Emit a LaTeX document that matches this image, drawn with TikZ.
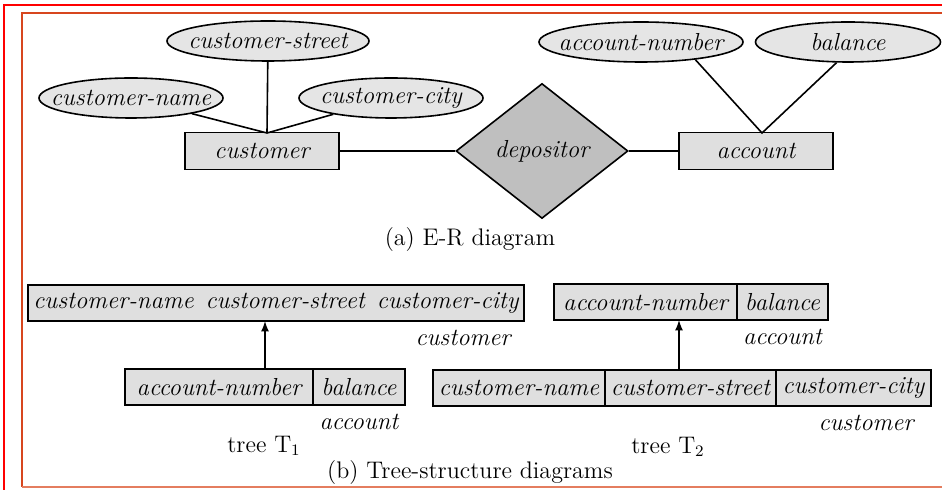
\documentclass[tikz,border=0pt]{standalone}
\usetikzlibrary{shapes.geometric,positioning}
\definecolor{framered}{RGB}{255,0,0}
\definecolor{framerust}{RGB}{215,70,30}
\definecolor{frameorange}{RGB}{228,125,95}

\begin{document}
\begin{tikzpicture}[x=0.5pt,y=-0.5pt,line width=0.8pt,
		font=\fontsize{12.3}{14}\selectfont\itshape]

		\tikzset{entity/.style={draw,fill=gray!25,minimum width=77pt,minimum height=18.5pt,inner sep=0pt},
			attr/.style={ellipse,draw,fill=gray!20,inner xsep=-8pt,inner ysep=0pt,minimum height=20pt},
			rel/.style={diamond,draw,fill=gray!50,minimum width=86pt,minimum height=67.5pt,inner sep=0pt},
			cell/.style={draw,fill=gray!25,minimum height=18pt,inner xsep=2pt,inner ysep=0pt,outer sep=0pt},
			caption/.style={font=\fontsize{12}{14}\selectfont\upshape}}
		\useasboundingbox (0,0) rectangle (942,490);

		% frames
		\draw[framered] (4,490) -- (4,5) -- (942,5);
		\draw[framerust] (942,13) -- (22,13) -- (22,487);
		\draw[frameorange,line width=1pt] (22,487) -- (942,487);

		% (a) E-R diagram
	    \node[attr,minimum width=101pt] (street) at (268,41) {customer-street};
	    \node[attr,minimum width=92pt] (cname) at (131,98) {customer-name};
	    \node[attr,minimum width=92pt] (city) at (391,98) {customer-city};
	    \node[entity] (cust) at (262,151) {customer};
	    \node[rel] (dep) at (542,151) {depositor};
	    \node[entity] (acct) at (756,151) {account};
	    \node[attr,minimum width=102pt] (anum) at (641,42) {account-number};
	    \node[attr,minimum width=92.5pt] (bal) at (848,42) {balance};
	    \coordinate (cj) at (267,133);
	    \coordinate (aj) at (762,133);
	    \draw (street) -- (cj);
	    \draw (cname) -- (cj) -- (city);
	    \draw (anum.-18) -- (aj) -- (bal.-119);
	    \draw (cust) -- (dep) -- (acct);
	    \node[caption] (capa) at (470,240) {(a) E-R diagram};

		% tree T1
	    \node[cell,minimum width=248pt] (t1cust) at (276,303)
	    	{customer-name\hspace{6pt}customer-street\hspace{6pt}customer-city};
	    \node[below left=1pt and 3pt of t1cust.south east] (t1custlbl) {customer};
	    \node[cell,anchor=north west,minimum width=94pt] (t1anum) at (125,369) {account-number};
	    \node[cell,right=0pt of t1anum,minimum width=46pt] (t1bal) {balance};
	    \node[below=1pt of t1bal] (t1acctlbl) {account};
	    \coordinate (t1tail) at (265,369);
	    \draw[-latex] (t1tail) -- (t1tail |- t1cust.south);
	    \node[caption] (t1name) at (264,446) {tree T\textsubscript{1}};

		% tree T2
	    \node[cell,anchor=north west,minimum width=91.5pt] (t2anum) at (554,284) {account-number};
	    \node[cell,right=0pt of t2anum,minimum width=45.5pt] (t2bal) {balance};
	    \node[below=1pt of t2bal] (t2acctlbl) {account};
	    \node[cell,anchor=north west,minimum width=86pt] (t2cname) at (433,370) {customer-name};
	    \node[cell,right=0pt of t2cname,minimum width=85.5pt] (t2street) {customer-street};
	    \node[cell,right=0pt of t2street,minimum width=77.5pt] (t2city) {customer-city};
	    \node[below left=1pt and 5pt of t2city.south east] (t2custlbl) {customer};
	    \coordinate (t2tail) at (679,370);
	    \draw[-latex] (t2tail) -- (t2tail |- t2anum.south);
	    \node[caption] (t2name) at (668,447) {tree T\textsubscript{2}};

	    \node[caption] (capb) at (470,473) {(b) Tree-structure diagrams};

	\end{tikzpicture}
\end{document}
